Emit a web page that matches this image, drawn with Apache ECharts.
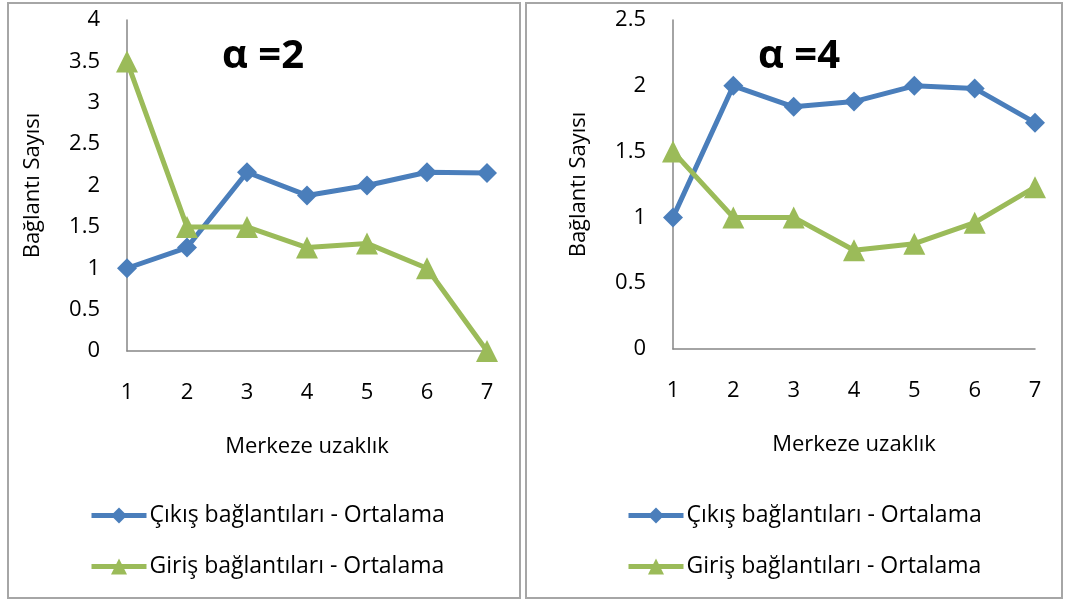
<!DOCTYPE html>
<html>
<head>
<meta charset="utf-8">
<script src="https://cdn.jsdelivr.net/npm/echarts@6/dist/echarts.min.js"></script>
<style>
  html, body { margin: 0; padding: 0; background: #fff; }
  #chart { width: 1068px; height: 601px; }
</style>
</head>
<body>
<div id="chart"></div>
<script>
    // veriler
    var categories = ['1', '2', '3', '4', '5', '6', '7'];
    var cikisA2 = [1, 1.25, 2.16, 1.88, 2.0, 2.16, 2.15];
    var girisA2 = [3.5, 1.5, 1.5, 1.25, 1.3, 1.0, 0];
    var cikisA4 = [1, 2.0, 1.84, 1.88, 2.0, 1.98, 1.72];
    var girisA4 = [1.5, 1.0, 1.0, 0.75, 0.8, 0.96, 1.23];
    var titles = ['α =2', 'α =4'];
    var seriesNames = ['Çıkış bağlantıları - Ortalama', 'Giriş bağlantıları - Ortalama'];

    var FONT = '"Open Sans", sans-serif';
    var FS = 22;
    var BLUE = '#4a7ebb';
    var GREEN = '#9bbb59';
    var AXIS = '#868686';

    function xAxisOf(gridIndex) {
        return {
            type: 'category',
            gridIndex: gridIndex,
            data: categories,
            boundaryGap: false,
            name: 'Merkeze uzaklık',
            nameLocation: 'middle',
            nameGap: 85,
            nameTextStyle: { color: '#000', fontSize: FS, fontFamily: FONT },
            axisLine: { lineStyle: { color: AXIS, width: 1.5 } },
            axisTick: { show: false },
            axisLabel: { color: '#000', fontSize: FS, fontFamily: FONT, margin: 31 }
        };
    }

    function yAxisOf(gridIndex, max) {
        return {
            type: 'value',
            gridIndex: gridIndex,
            min: 0,
            max: max,
            interval: 0.5,
            name: 'Bağlantı Sayısı',
            nameLocation: 'middle',
            nameGap: 83,
            nameTextStyle: { color: '#000', fontSize: FS, fontFamily: FONT },
            axisLine: { show: true, lineStyle: { color: AXIS, width: 1.5 } },
            axisTick: { show: false },
            splitLine: { show: false },
            axisLabel: { color: '#000', fontSize: FS, fontFamily: FONT, margin: 27 }
        };
    }

    function lineOf(name, idx, data, color, symbol, size) {
        return {
            name: name,
            type: 'line',
            xAxisIndex: idx,
            yAxisIndex: idx,
            data: data,
            symbol: symbol,
            symbolSize: size,
            lineStyle: { color: color, width: 5 },
            itemStyle: { color: color },
            animation: false
        };
    }

    function legendOf(left) {
        return {
            left: left, top: 504, orient: 'vertical', padding: 0,
            itemWidth: 55, itemHeight: 20, itemGap: 28,
            data: seriesNames,
            lineStyle: { width: 5 },
            textStyle: { color: '#000', fontSize: 23, fontFamily: FONT, padding: [0, 0, 0, -2] }
        };
    }

    function titleOf(text, x) {
        return {
            text: text, left: x, top: 52, textAlign: 'center', textVerticalAlign: 'middle',
            textStyle: { fontSize: 40, fontWeight: 'bold', fontFamily: FONT, color: '#000' }
        };
    }

    var myChart = echarts.init(document.getElementById('chart'));
    myChart.setOption({
        backgroundColor: '#fff',
        title: [titleOf(titles[0], 258), titleOf(titles[1], 794)],
        grid: [
            { left: 127, top: 20, width: 360, height: 331 },
            { left: 673, top: 20, width: 362, height: 329 }
        ],
        legend: [legendOf(89), legendOf(626)],
        xAxis: [xAxisOf(0), xAxisOf(1)],
        yAxis: [yAxisOf(0, 4), yAxisOf(1, 2.5)],
        series: [
            lineOf(seriesNames[0], 0, cikisA2, BLUE, 'diamond', 20),
            lineOf(seriesNames[1], 0, girisA2, GREEN, 'triangle', 22),
            lineOf(seriesNames[0], 1, cikisA4, BLUE, 'diamond', 20),
            lineOf(seriesNames[1], 1, girisA4, GREEN, 'triangle', 22)
        ],
        graphic: [
            { type: 'rect', shape: { x: 8, y: 3, width: 512, height: 595 },
              style: { fill: 'none', stroke: '#a6a6a6', lineWidth: 2 } },
            { type: 'rect', shape: { x: 526, y: 3, width: 536, height: 595 },
              style: { fill: 'none', stroke: '#a6a6a6', lineWidth: 2 } }
        ]
    });
</script>
</body>
</html>
